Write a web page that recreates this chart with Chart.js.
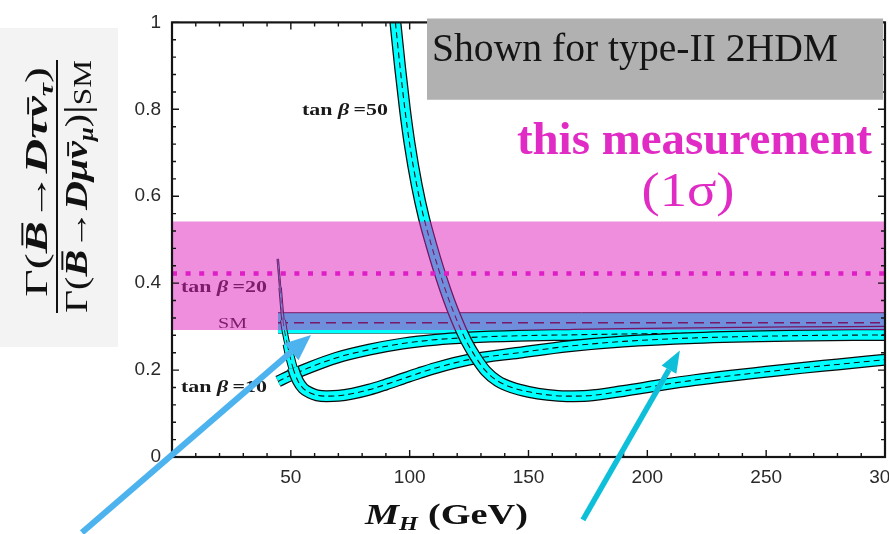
<!DOCTYPE html>
<html>
<head>
<meta charset="utf-8">
<script src="https://cdn.jsdelivr.net/npm/chart.js@4/dist/chart.umd.min.js"></script>
<style>
  html, body { margin: 0; padding: 0; background: #fff; overflow: hidden; width: 889px; height: 534px; }
  #wrap { position: relative; width: 920px; height: 534px; }
</style>
</head>
<body>
<div id="wrap"><canvas id="c" width="920" height="534"></canvas></div>
<script>
// ---- Axis ticks ----
const massTicks = [50, 100, 150, 200, 250, 300];
const massTickLabels = ['50', '100', '150', '200', '250', '300'];
const ratioTicks = [0, 0.2, 0.4, 0.6, 0.8, 1];
const ratioTickLabels = ['0', '0.2', '0.4', '0.6', '0.8', '1'];

// ---- 2HDM type-II predictions, R(D) vs charged Higgs mass M_H [GeV] ----
const tb10Mass  = [44.6, 50, 57, 69, 83, 97, 111, 125, 146, 167, 190, 220, 260, 300];
const tb10Ratio = [0.174, 0.188, 0.204, 0.228, 0.247, 0.261, 0.270, 0.275, 0.279, 0.281, 0.283, 0.285, 0.287, 0.288];

const tb20Mass  = [44.5, 45.5, 46.7, 48.5, 50.9, 53, 55.2, 58, 61, 65, 70, 76, 83, 90, 97, 104, 111, 125, 146, 167, 190, 220, 260, 300];
const tb20Ratio = [0.456, 0.39, 0.315, 0.26, 0.205, 0.175, 0.158, 0.148, 0.142, 0.140, 0.141, 0.146, 0.155, 0.167, 0.180, 0.193, 0.205, 0.224, 0.240, 0.255, 0.266, 0.274, 0.279, 0.281];

const tb50Mass  = [94, 96, 98, 100, 103, 106, 109, 112, 115, 118, 121, 124, 128, 132, 137, 143, 150, 158, 166, 175, 190, 205, 220, 235, 250, 265, 280, 300];
const tb50Ratio = [1.0, 0.895, 0.80, 0.72, 0.625, 0.55, 0.49, 0.435, 0.385, 0.34, 0.30, 0.265, 0.228, 0.198, 0.175, 0.16, 0.15, 0.143, 0.14, 0.141, 0.152, 0.165, 0.177, 0.187, 0.196, 0.205, 0.213, 0.224];

// ---- Standard Model band ----
const smMass    = [44.6, 300];
const smCentral = [0.309, 0.309];
const smUpper   = [0.332, 0.332];
const smLower   = [0.285, 0.285];

// ---- Measured ratio, 1 sigma ----
const measMass    = [0, 300];
const measCentral = [0.422, 0.422];
const measUpper   = [0.542, 0.542];
const measLower   = [0.292, 0.292];

// ---- Curve labels (anchored in data units) ----
const curveLabels = [
  { tan: '50', x: 54.7, y: 0.788 },
  { tan: '20', x: 3.8,  y: 0.379 },
  { tan: '10', x: 3.8,  y: 0.149 }
];

const SERIF = '"Liberation Serif", "Times New Roman", serif';
const SANS = '"Liberation Sans", Arial, sans-serif';

const pts = (xs, ys) => xs.map((x, i) => ({ x, y: ys[i] }));
const line = (data, extra) => Object.assign({
  data, showLine: true, pointRadius: 0, pointHoverRadius: 0, fill: false, clip: 0,
  cubicInterpolationMode: 'monotone', borderCapStyle: 'butt', borderJoinStyle: 'round'
}, extra);

const datasets = [];
function add(ds) { datasets.push(ds); return datasets.length - 1; }

// SM band
const smLoIdx = add(line(pts(smMass, smLower), { borderColor: '#1a1a1a', borderWidth: 1, order: 91, cubicInterpolationMode: 'default' }));
add(line(pts(smMass, smUpper), { borderColor: '#1a1a1a', borderWidth: 1, order: 90, fill: { target: smLoIdx }, backgroundColor: '#00ffff', cubicInterpolationMode: 'default' }));
add(line(pts(smMass, smCentral), { borderColor: '#111', borderWidth: 1.4, borderDash: [10, 6], order: 89, cubicInterpolationMode: 'default' }));

// thin start of the tan(beta)=20 curve where it falls steeply
const thinOuter = [2.5, 3.5, 6, 9.5];
const thinInner = [0.8, 1.6, 4, 7.5];
const thinDash  = [0.5, 0.6, 0.8, 1];

function band(xs, ys, base, thin) {
  const seg = (arr) => thin ? { borderWidth: c => (c.p0DataIndex < arr.length ? arr[c.p0DataIndex] : undefined) } : undefined;
  add(line(pts(xs, ys), { borderColor: '#0b0b0b', borderWidth: 12, order: base + 2, segment: seg(thinOuter) }));
  add(line(pts(xs, ys), { borderColor: '#00ffff', borderWidth: 9.5, order: base + 1, segment: seg(thinInner) }));
  add(line(pts(xs, ys), { borderColor: '#111', borderWidth: 1.1, borderDash: [6, 4], order: base, segment: seg(thinDash) }));
}
band(tb10Mass, tb10Ratio, 70, false);
band(tb20Mass, tb20Ratio, 60, true);
band(tb50Mass, tb50Ratio, 50, false);

// measurement band on top, semi-transparent
const measLoIdx = add(line(pts(measMass, measLower), { borderWidth: 0, borderColor: 'rgba(0,0,0,0)', order: 21, cubicInterpolationMode: 'default' }));
add(line(pts(measMass, measUpper), { borderWidth: 0, borderColor: 'rgba(0,0,0,0)', order: 20, fill: { target: measLoIdx }, backgroundColor: 'rgba(221,30,185,0.5)', cubicInterpolationMode: 'default' }));
add(line(pts(measMass, measCentral), { borderColor: '#e01ec8', borderWidth: 4.5, borderDash: [5, 8.6], order: 10, cubicInterpolationMode: 'default' }));

// ---- rich text helpers ----
function runsWidth(ctx, runs) {
  let w = 0;
  for (const r of runs) { ctx.font = r.font; w += ctx.measureText(r.t).width + (r.gap || 0); }
  return w;
}
function drawRuns(ctx, runs, x, y) {
  let cx = x;
  for (const r of runs) {
    ctx.font = r.font;
    const w = ctx.measureText(r.t).width;
    const by = y + (r.dy || 0);
    ctx.fillText(r.t, cx, by);
    if (r.bar) ctx.fillRect(cx + w * r.bar[0], by - r.bar[2], w * (r.bar[1] - r.bar[0]), r.bar[3]);
    cx += w + (r.gap || 0);
  }
}
// draw runs stretched horizontally to a given width; align 'left' or 'center'
function fitRuns(ctx, runs, x, y, width, align) {
  const w = runsWidth(ctx, runs);
  const s = width / w;
  ctx.save();
  ctx.translate(align === 'center' ? x - width / 2 : x, y);
  ctx.scale(s, 1);
  ctx.textAlign = 'left';
  ctx.textBaseline = 'alphabetic';
  drawRuns(ctx, runs, 0, 0);
  ctx.restore();
}
function arrow(ctx, x0, y0, x1, y1, color, w, headLen, headW) {
  const a = Math.atan2(y1 - y0, x1 - x0);
  const bx = x1 - headLen * Math.cos(a), by = y1 - headLen * Math.sin(a);
  ctx.save();
  ctx.strokeStyle = color; ctx.fillStyle = color; ctx.lineWidth = w; ctx.lineCap = 'butt';
  ctx.beginPath(); ctx.moveTo(x0, y0); ctx.lineTo(bx, by); ctx.stroke();
  ctx.beginPath();
  ctx.moveTo(x1, y1);
  ctx.lineTo(bx + headW / 2 * Math.sin(a), by - headW / 2 * Math.cos(a));
  ctx.lineTo(bx - headW / 2 * Math.sin(a), by + headW / 2 * Math.cos(a));
  ctx.closePath(); ctx.fill();
  ctx.restore();
}
function tanRuns(val, F) {
  return [
    { t: 'tan', font: `bold ${F}px ${SERIF}`, gap: F * 0.25 },
    { t: 'β', font: `italic bold ${F}px ${SERIF}`, gap: F * 0.2 },
    { t: '=', font: `bold ${F}px ${SERIF}` },
    { t: val, font: `bold ${F}px ${SERIF}` }
  ];
}

const decor = {
  id: 'decor',
  beforeDraw(chart) {
    const ctx = chart.ctx;
    ctx.save();
    ctx.fillStyle = '#f3f3f3';
    ctx.fillRect(0, 28, 118, 319);
    ctx.restore();
  },
  beforeDatasetsDraw(chart) {
    const ctx = chart.ctx, xs = chart.scales.x, ys = chart.scales.y;
    ctx.save();
    ctx.fillStyle = '#1a1a1a';
    for (const l of curveLabels) {
      fitRuns(ctx, tanRuns(l.tan, 17), xs.getPixelForValue(l.x), ys.getPixelForValue(l.y), 86, 'left');
    }
    fitRuns(ctx, [{ t: 'SM', font: `15px ${SERIF}` }], xs.getPixelForValue(19.4), ys.getPixelForValue(0.296), 29, 'left');
    ctx.restore();
  },
  afterDatasetsDraw(chart) {
    const ctx = chart.ctx, xs = chart.scales.x, ys = chart.scales.y;
    const { left, right, top, bottom } = chart.chartArea;
    ctx.save();
    ctx.strokeStyle = '#141414';
    ctx.lineWidth = 1.4;
    ctx.beginPath();
    for (let v = 0; v <= 300; v += 10) {
      const X = xs.getPixelForValue(v), L = v % 50 === 0 ? 7 : 4;
      ctx.moveTo(X, bottom); ctx.lineTo(X, bottom - L);
      ctx.moveTo(X, top); ctx.lineTo(X, top + L);
    }
    for (let i = 0; i <= 25; i++) {
      const Y = ys.getPixelForValue(i * 0.04), L = i % 5 === 0 ? 7 : 4;
      ctx.moveTo(left, Y); ctx.lineTo(left + L, Y);
      ctx.moveTo(right, Y); ctx.lineTo(right - L, Y);
    }
    ctx.stroke();
    ctx.lineWidth = 2.2;
    ctx.strokeRect(left, top, right - left, bottom - top);
    ctx.restore();
  },
  afterDraw(chart) {
    const ctx = chart.ctx, xs = chart.scales.x, ys = chart.scales.y;
    const X = v => xs.getPixelForValue(v), Y = v => ys.getPixelForValue(v);
    ctx.save();

    // model note box
    ctx.fillStyle = '#b1b1b1';
    ctx.fillRect(X(107.3), Y(1.009), X(299.2) - X(107.3), Y(0.822) - Y(1.009));
    ctx.fillStyle = '#151515';
    fitRuns(ctx, [{ t: 'Shown for type-II 2HDM', font: `39px ${SERIF}` }], X(109.4), Y(0.912), 406, 'left');

    // measurement caption
    ctx.fillStyle = '#e02cc4';
    fitRuns(ctx, [{ t: 'this measurement', font: `bold 46px ${SERIF}` }], X(219.8), Y(0.6975), 355, 'center');
    fitRuns(ctx, [{ t: '(1σ)', font: `48px ${SERIF}` }], X(217.1), Y(0.578), 93, 'center');

    // arrows
    arrow(ctx, X(-37.9), Y(-0.174), X(58.5), Y(0.281), '#4db3ef', 6, 26, 22);
    arrow(ctx, X(172.9), Y(-0.1445), X(213.7), Y(0.245), '#0ebfd9', 5.5, 22, 17);

    // x axis title
    ctx.fillStyle = '#111';
    fitRuns(ctx, [
      { t: 'M', font: `italic bold 30px ${SERIF}` },
      { t: 'H', font: `italic bold 19px ${SERIF}`, dy: 6, gap: 8 },
      { t: '(GeV)', font: `bold 30px ${SERIF}` }
    ], 365, 524, 163, 'left');

    // y axis title: fraction, rotated
    const F = 32;
    const num = [
      { t: 'Γ', font: `${F}px ${SERIF}` },
      { t: '(', font: `${F}px ${SERIF}` },
      { t: 'B', font: `italic bold ${F}px ${SERIF}`, bar: [0.25, 0.95, F * 0.8, F * 0.06] },
      { t: '→', font: `bold ${F}px ${SERIF}` },
      { t: 'D', font: `italic bold ${F}px ${SERIF}` },
      { t: 'τ', font: `italic bold ${F}px ${SERIF}` },
      { t: 'ν', font: `italic bold ${F}px ${SERIF}`, bar: [0.15, 0.95, F * 0.62, F * 0.06] },
      { t: 'τ', font: `italic bold ${Math.round(F * 0.62)}px ${SERIF}`, dy: F * 0.2 },
      { t: ')', font: `${F}px ${SERIF}` }
    ];
    const den = [
      { t: 'Γ', font: `${F}px ${SERIF}` },
      { t: '(', font: `${F}px ${SERIF}` },
      { t: 'B', font: `italic bold ${F}px ${SERIF}`, bar: [0.25, 0.95, F * 0.8, F * 0.06] },
      { t: '→', font: `bold ${F}px ${SERIF}` },
      { t: 'D', font: `italic bold ${F}px ${SERIF}` },
      { t: 'μ', font: `italic bold ${F}px ${SERIF}` },
      { t: 'ν', font: `italic bold ${F}px ${SERIF}`, bar: [0.15, 0.95, F * 0.62, F * 0.06] },
      { t: 'μ', font: `italic bold ${Math.round(F * 0.62)}px ${SERIF}`, dy: F * 0.2 },
      { t: ')', font: `${F}px ${SERIF}` },
      { t: '|', font: `${Math.round(F * 1.1)}px ${SERIF}`, dy: F * 0.05 },
      { t: 'SM', font: `${Math.round(F * 0.78)}px ${SERIF}`, dy: F * 0.12 }
    ];
    ctx.save();
    ctx.translate(47, 182); ctx.rotate(-Math.PI / 2);
    fitRuns(ctx, num, 0, 0, 230, 'center');
    ctx.restore();
    ctx.save();
    ctx.translate(87, 186.5); ctx.rotate(-Math.PI / 2);
    fitRuns(ctx, den, 0, 0, 253, 'center');
    ctx.restore();
    ctx.fillRect(56, 60, 2, 253);

    ctx.restore();
  }
};

new Chart(document.getElementById('c'), {
  type: 'scatter',
  data: { datasets },
  options: {
    responsive: false,
    animation: false,
    devicePixelRatio: 1,
    layout: { padding: { left: 0, top: 14, right: 35, bottom: 0 } },
    plugins: { legend: { display: false }, tooltip: { enabled: false } },
    scales: {
      x: {
        type: 'linear', min: 0, max: 300,
        afterFit: s => { s.height = 77; },
        afterBuildTicks: s => { s.ticks = massTicks.map(v => ({ value: v })); },
        grid: { display: false, drawTicks: false },
        border: { display: false },
        ticks: {
          autoSkip: false, maxRotation: 0, minRotation: 0, padding: 9, color: '#2a2a2a',
          font: { family: SANS, size: 19 },
          callback: (v, i) => massTickLabels[i]
        }
      },
      y: {
        type: 'linear', min: 0, max: 1,
        afterFit: s => { s.width = 172; },
        afterBuildTicks: s => { s.ticks = ratioTicks.map(v => ({ value: v })); },
        grid: { display: false, drawTicks: false },
        border: { display: false },
        ticks: {
          autoSkip: false, padding: 11, color: '#2a2a2a',
          font: { family: SANS, size: 19 },
          callback: (v, i) => ratioTickLabels[i]
        }
      }
    }
  },
  plugins: [decor]
});
</script>
</body>
</html>
